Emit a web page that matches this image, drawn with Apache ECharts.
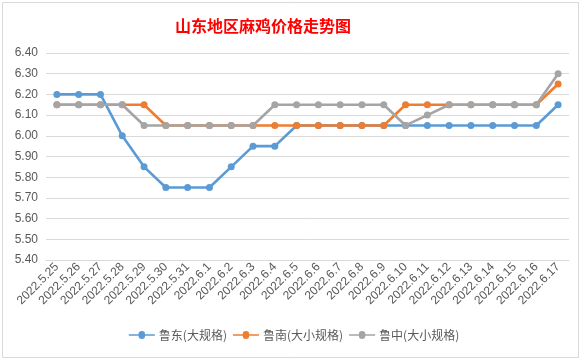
<!DOCTYPE html>
<html><head><meta charset="utf-8">
<script src="https://cdn.jsdelivr.net/npm/echarts@6/dist/echarts.min.js"></script>
<style>html,body{margin:0;padding:0;background:#fff}#c{width:588px;height:360px}</style>
</head><body><div id="c"></div>
<script>
const categories = ['2022.5.25','2022.5.26','2022.5.27','2022.5.28','2022.5.29','2022.5.30','2022.5.31','2022.6.1','2022.6.2','2022.6.3','2022.6.4','2022.6.5','2022.6.6','2022.6.7','2022.6.8','2022.6.9','2022.6.10','2022.6.11','2022.6.12','2022.6.13','2022.6.14','2022.6.15','2022.6.16','2022.6.17'];
const ludong = [6.20,6.20,6.20,6.00,5.85,5.75,5.75,5.75,5.85,5.95,5.95,6.05,6.05,6.05,6.05,6.05,6.05,6.05,6.05,6.05,6.05,6.05,6.05,6.15];
const lunan = [6.15,6.15,6.15,6.15,6.15,6.05,6.05,6.05,6.05,6.05,6.05,6.05,6.05,6.05,6.05,6.05,6.15,6.15,6.15,6.15,6.15,6.15,6.15,6.25];
const luzhong = [6.15,6.15,6.15,6.15,6.05,6.05,6.05,6.05,6.05,6.05,6.15,6.15,6.15,6.15,6.15,6.15,6.05,6.10,6.15,6.15,6.15,6.15,6.15,6.30];
const seriesNames = ['鲁东(大规格)','鲁南(大小规格)','鲁中(大小规格)'];
const colors = ['#5B9BD5','#ED7D31','#A5A5A5'];
const yMin = 5.4, yMax = 6.4, yStep = 0.1;

const chart = echarts.init(document.getElementById('c'));
const mk = (name, data, color) => ({
  name, type:'line', data, color,
  symbol:'circle', symbolSize:7,
  lineStyle:{width:2.6, color},
  itemStyle:{color}
});
chart.setOption({
  animation:false,
  title:{text:'山东地区麻鸡价格走势图', left:170, top:13,
    textStyle:{color:'#FF0000', fontSize:16, fontWeight:'bold', fontFamily:'Noto Sans CJK SC'}},
  grid:{left:46, right:19, top:53, bottom:100},
  legend:{bottom:14, left:'center', itemWidth:28, itemHeight:8, itemGap:6,
    textStyle:{color:'#595959', fontSize:12, fontFamily:'Noto Sans CJK SC', padding:[0,0,0,-2]},
    data:seriesNames.map(n=>({name:n, icon:'path://M0,3.2H10.5A3.5,3.5 0 0 1 17.5,3.2H28V4.8H17.5A3.5,3.5 0 0 1 10.5,4.8H0Z'}))},
  xAxis:{type:'category', data:categories, boundaryGap:true,
    axisLine:{lineStyle:{color:'#D9D9D9'}}, axisTick:{show:false},
    axisLabel:{rotate:45, color:'#595959', fontSize:12, margin:5, interval:0, fontFamily:'Liberation Sans'}},
  yAxis:{type:'value', min:yMin, max:yMax, interval:yStep,
    axisLine:{show:false}, axisTick:{show:false},
    splitLine:{lineStyle:{color:'#D9D9D9'}},
    axisLabel:{color:'#595959', fontSize:12, margin:8, formatter:v=>v.toFixed(2), fontFamily:'Liberation Sans'}},
  graphic:[{type:'rect', shape:{x:2.5,y:2.5,width:576,height:355}, style:{fill:'none', stroke:'#D9D9D9', lineWidth:1}, silent:true}],
  series:[mk(seriesNames[0], ludong, colors[0]), mk(seriesNames[1], lunan, colors[1]), mk(seriesNames[2], luzhong, colors[2])]
});
</script></body></html>
